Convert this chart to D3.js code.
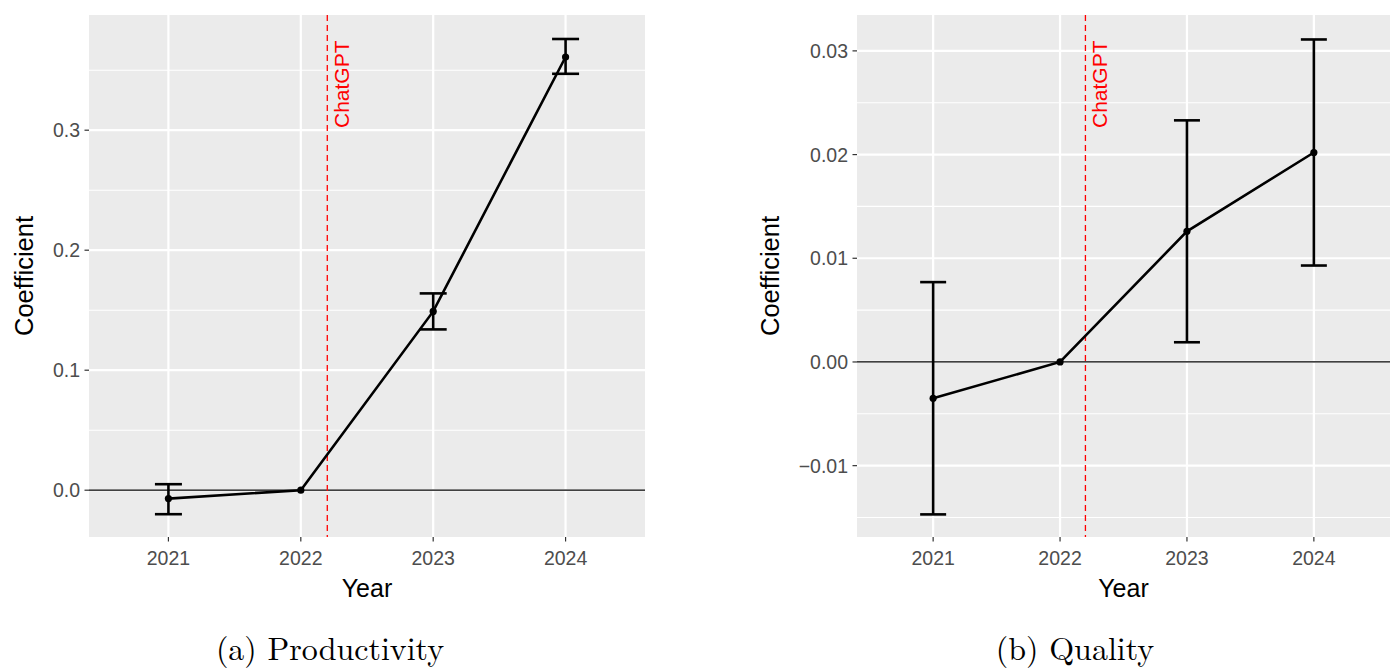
<!DOCTYPE html>
<html>
<head>
<meta charset="utf-8">
<script src="https://cdn.jsdelivr.net/npm/d3@7"></script>
<style>
  html, body { margin: 0; padding: 0; background: #ffffff; }
  svg { display: block; }
</style>
</head>
<body>
<svg id="chart" width="1398" height="672"></svg>
<script>
// ---- data ----
const years = [2021, 2022, 2023, 2024];
const prodEst  = [-0.007, 0, 0.149, 0.361];
const prodLow  = [-0.020, null, 0.134, 0.347];
const prodHigh = [0.005, null, 0.164, 0.376];
const qualEst  = [-0.0035, 0, 0.0126, 0.0202];
const qualLow  = [-0.0147, null, 0.0019, 0.0093];
const qualHigh = [0.0077, null, 0.0233, 0.0311];
const prodTicks = [0.0, 0.1, 0.2, 0.3];
const prodTickLabels = ["0.0", "0.1", "0.2", "0.3"];
const qualTicks = [-0.01, 0.0, 0.01, 0.02, 0.03];
const qualTickLabels = ["\u22120.01", "0.00", "0.01", "0.02", "0.03"];
const prodMinor = [0.05, 0.15, 0.25, 0.35];
const qualMinor = [-0.015, -0.005, 0.005, 0.015, 0.025];
const chatgptYear = 2022.2;
const captions = ["(a) Productivity", "(b) Quality"];

const svg = d3.select("#chart");
const sans = "'Liberation Sans', Arial, Helvetica, sans-serif";
const serif = "'Latin Modern Roman', 'CMU Serif', 'Liberation Serif', 'DejaVu Serif', serif";

function drawPanel(cfg) {
  const g = svg.append("g");
  const x = d3.scaleLinear().domain([2020.4, 2024.6]).range([cfg.left, cfg.right]);
  const y = d3.scaleLinear().domain(cfg.yDomain).range([cfg.bottom, cfg.top]);

  // panel background
  g.append("rect")
    .attr("x", cfg.left).attr("y", cfg.top)
    .attr("width", cfg.right - cfg.left).attr("height", cfg.bottom - cfg.top)
    .attr("fill", "#EBEBEB");

  // minor grid
  g.selectAll(".minor").data(cfg.minor).enter().append("line")
    .attr("x1", cfg.left).attr("x2", cfg.right)
    .attr("y1", d => y(d)).attr("y2", d => y(d))
    .attr("stroke", "#ffffff").attr("stroke-width", 1.1);

  // major grid
  g.selectAll(".majorY").data(cfg.ticks).enter().append("line")
    .attr("x1", cfg.left).attr("x2", cfg.right)
    .attr("y1", d => y(d)).attr("y2", d => y(d))
    .attr("stroke", "#ffffff").attr("stroke-width", 2.2);
  g.selectAll(".majorX").data(years).enter().append("line")
    .attr("x1", d => x(d)).attr("x2", d => x(d))
    .attr("y1", cfg.top).attr("y2", cfg.bottom)
    .attr("stroke", "#ffffff").attr("stroke-width", 2.2);

  // zero line
  g.append("line")
    .attr("x1", cfg.left).attr("x2", cfg.right)
    .attr("y1", y(0)).attr("y2", y(0))
    .attr("stroke", "#000000").attr("stroke-width", 1.2);

  // ChatGPT line
  g.append("line")
    .attr("x1", x(chatgptYear)).attr("x2", x(chatgptYear))
    .attr("y1", cfg.top).attr("y2", cfg.bottom)
    .attr("stroke", "#FF0000").attr("stroke-width", 1.3)
    .attr("stroke-dasharray", "6,4");
  g.append("text")
    .attr("transform", `translate(${x(chatgptYear) + 22},${cfg.top + 113}) rotate(-90)`)
    .attr("text-anchor", "start")
    .attr("font-family", sans).attr("font-size", 21)
    .attr("fill", "#FF0000")
    .text("ChatGPT");

  const pts = years.map((yr, i) => ({ yr, est: cfg.est[i], lo: cfg.lo[i], hi: cfg.hi[i] }));

  // error bars
  const eb = pts.filter(d => d.lo !== null);
  const capW = cfg.capHalf;
  g.selectAll(".ebv").data(eb).enter().append("line")
    .attr("x1", d => x(d.yr)).attr("x2", d => x(d.yr))
    .attr("y1", d => y(d.lo)).attr("y2", d => y(d.hi))
    .attr("stroke", "#000").attr("stroke-width", 2.6);
  g.selectAll(".ebt").data(eb).enter().append("line")
    .attr("x1", d => x(d.yr) - capW).attr("x2", d => x(d.yr) + capW)
    .attr("y1", d => y(d.hi)).attr("y2", d => y(d.hi))
    .attr("stroke", "#000").attr("stroke-width", 2.6);
  g.selectAll(".ebb").data(eb).enter().append("line")
    .attr("x1", d => x(d.yr) - capW).attr("x2", d => x(d.yr) + capW)
    .attr("y1", d => y(d.lo)).attr("y2", d => y(d.lo))
    .attr("stroke", "#000").attr("stroke-width", 2.6);

  // line
  const line = d3.line().x(d => x(d.yr)).y(d => y(d.est));
  g.append("path").datum(pts).attr("d", line)
    .attr("fill", "none").attr("stroke", "#000").attr("stroke-width", 2.6);

  // points
  g.selectAll(".pt").data(pts).enter().append("circle")
    .attr("cx", d => x(d.yr)).attr("cy", d => y(d.est)).attr("r", 3.6)
    .attr("fill", "#000");

  // y axis ticks & labels
  g.selectAll(".ytick").data(cfg.ticks).enter().append("line")
    .attr("x1", cfg.left - 4.5).attr("x2", cfg.left)
    .attr("y1", d => y(d)).attr("y2", d => y(d))
    .attr("stroke", "#333333").attr("stroke-width", 1.2);
  g.selectAll(".ylab").data(cfg.ticks).enter().append("text")
    .attr("x", cfg.left - 9).attr("y", d => y(d))
    .attr("dy", "0.36em")
    .attr("text-anchor", "end")
    .attr("font-family", sans).attr("font-size", 19.5)
    .attr("fill", "#4D4D4D")
    .text((d, i) => cfg.tickLabels[i]);

  // x axis ticks & labels
  g.selectAll(".xtick").data(years).enter().append("line")
    .attr("x1", d => x(d)).attr("x2", d => x(d))
    .attr("y1", cfg.bottom).attr("y2", cfg.bottom + 4.5)
    .attr("stroke", "#333333").attr("stroke-width", 1.2);
  g.selectAll(".xlab").data(years).enter().append("text")
    .attr("x", d => x(d)).attr("y", cfg.bottom + 28)
    .attr("text-anchor", "middle")
    .attr("font-family", sans).attr("font-size", 19.5)
    .attr("fill", "#4D4D4D")
    .text(d => d);

  // axis titles
  g.append("text")
    .attr("x", (cfg.left + cfg.right) / 2).attr("y", cfg.bottom + 60)
    .attr("text-anchor", "middle")
    .attr("font-family", sans).attr("font-size", 25)
    .attr("fill", "#000")
    .text("Year");
  g.append("text")
    .attr("transform", `translate(${cfg.ytitleX},${(cfg.top + cfg.bottom) / 2}) rotate(-90)`)
    .attr("text-anchor", "middle")
    .attr("font-family", sans).attr("font-size", 25.5)
    .attr("fill", "#000")
    .text("Coefficient");

  // caption
  g.append("text")
    .attr("x", cfg.captionX).attr("y", 660)
    .attr("text-anchor", "middle")
    .attr("font-family", serif).attr("font-size", 32)
    .attr("fill", "#000")
    .text(cfg.caption);
}

drawPanel({
  left: 89, right: 645, top: 15, bottom: 537,
  yDomain: [-0.039, 0.396],
  ticks: prodTicks, tickLabels: prodTickLabels, minor: prodMinor,
  est: prodEst, lo: prodLow, hi: prodHigh,
  capHalf: 13.5, ytitleX: 33, captionX: 330, caption: captions[0]
});
drawPanel({
  left: 857, right: 1390, top: 15, bottom: 537,
  yDomain: [-0.01688, 0.03346],
  ticks: qualTicks, tickLabels: qualTickLabels, minor: qualMinor,
  est: qualEst, lo: qualLow, hi: qualHigh,
  capHalf: 13, ytitleX: 779, captionX: 1075, caption: captions[1]
});
</script>
</body>
</html>
